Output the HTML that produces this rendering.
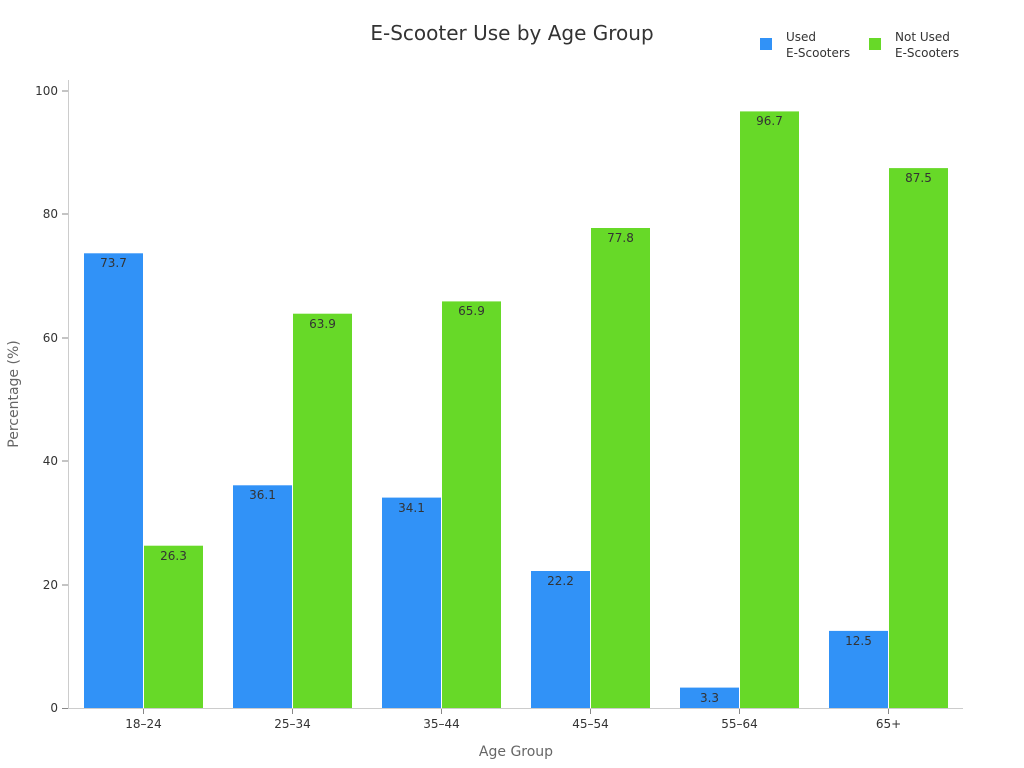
<!DOCTYPE html>
<html><head><meta charset="utf-8"><style>body{margin:0;background:#fff}svg{display:block}text{font-family:"DejaVu Sans","Liberation Sans",sans-serif}</style></head>
<body>
<svg width="1024" height="768" viewBox="0 0 1024 768" xmlns="http://www.w3.org/2000/svg">
<text x="512" y="40" text-anchor="middle" font-size="20" fill="#333">E-Scooter Use by Age Group</text>
<rect x="760" y="38" width="12" height="12" fill="#3192f7"/>
<text x="786" y="41" font-size="12" fill="#333">Used</text>
<text x="786" y="57" font-size="12" fill="#333">E-Scooters</text>
<rect x="869" y="38" width="12" height="12" fill="#67d928"/>
<text x="895" y="41" font-size="12" fill="#333">Not Used</text>
<text x="895" y="57" font-size="12" fill="#333">E-Scooters</text>
<line x1="68.5" y1="80" x2="68.5" y2="708" stroke="#ccc"/>
<line x1="68" y1="708.5" x2="963" y2="708.5" stroke="#ccc"/>
<g font-size="12" fill="#333" text-anchor="end">
<text x="58" y="712">0</text><line x1="62" y1="708.5" x2="68" y2="708.5" stroke="#888"/>
<text x="58" y="589">20</text><line x1="62" y1="585" x2="68" y2="585" stroke="#888"/>
<text x="58" y="465">40</text><line x1="62" y1="461" x2="68" y2="461" stroke="#888"/>
<text x="58" y="342">60</text><line x1="62" y1="338" x2="68" y2="338" stroke="#888"/>
<text x="58" y="218">80</text><line x1="62" y1="214" x2="68" y2="214" stroke="#888"/>
<text x="58" y="95">100</text><line x1="62" y1="91" x2="68" y2="91" stroke="#888"/>
</g>
<text transform="translate(18,394) rotate(-90)" text-anchor="middle" font-size="14" fill="#666">Percentage (%)</text>
<text x="516" y="756" text-anchor="middle" font-size="14" fill="#666">Age Group</text>
<g id="bars" font-size="12" fill="#333" text-anchor="middle">
<g transform="translate(143.5,0)">
<rect x="-59.5" y="253.3" width="59" height="454.7" fill="#3192f7"/><rect x="0.5" y="545.7" width="59" height="162.3" fill="#67d928"/>
<text x="-30" y="267">73.7</text><text x="30" y="560">26.3</text>
<line x1="0" y1="709" x2="0" y2="714" stroke="#888"/><text x="0" y="728">18–24</text></g>
<g transform="translate(292.5,0)">
<rect x="-59.5" y="485.3" width="59" height="222.7" fill="#3192f7"/><rect x="0.5" y="313.7" width="59" height="394.3" fill="#67d928"/>
<text x="-30" y="499">36.1</text><text x="30" y="328">63.9</text>
<line x1="0" y1="709" x2="0" y2="714" stroke="#888"/><text x="0" y="728">25–34</text></g>
<g transform="translate(441.5,0)">
<rect x="-59.5" y="497.6" width="59" height="210.4" fill="#3192f7"/><rect x="0.5" y="301.4" width="59" height="406.6" fill="#67d928"/>
<text x="-30" y="512">34.1</text><text x="30" y="315">65.9</text>
<line x1="0" y1="709" x2="0" y2="714" stroke="#888"/><text x="0" y="728">35–44</text></g>
<g transform="translate(590.5,0)">
<rect x="-59.5" y="571.0" width="59" height="137.0" fill="#3192f7"/><rect x="0.5" y="228.0" width="59" height="480.0" fill="#67d928"/>
<text x="-30" y="585">22.2</text><text x="30" y="242">77.8</text>
<line x1="0" y1="709" x2="0" y2="714" stroke="#888"/><text x="0" y="728">45–54</text></g>
<g transform="translate(739.5,0)">
<rect x="-59.5" y="687.6" width="59" height="20.4" fill="#3192f7"/><rect x="0.5" y="111.4" width="59" height="596.6" fill="#67d928"/>
<text x="-30" y="702">3.3</text><text x="30" y="125">96.7</text>
<line x1="0" y1="709" x2="0" y2="714" stroke="#888"/><text x="0" y="728">55–64</text></g>
<g transform="translate(888.5,0)">
<rect x="-59.5" y="630.9" width="59" height="77.1" fill="#3192f7"/><rect x="0.5" y="168.1" width="59" height="539.9" fill="#67d928"/>
<text x="-30" y="645">12.5</text><text x="30" y="182">87.5</text>
<line x1="0" y1="709" x2="0" y2="714" stroke="#888"/><text x="0" y="728">65+</text></g>
</g>
</svg>
</body></html>
